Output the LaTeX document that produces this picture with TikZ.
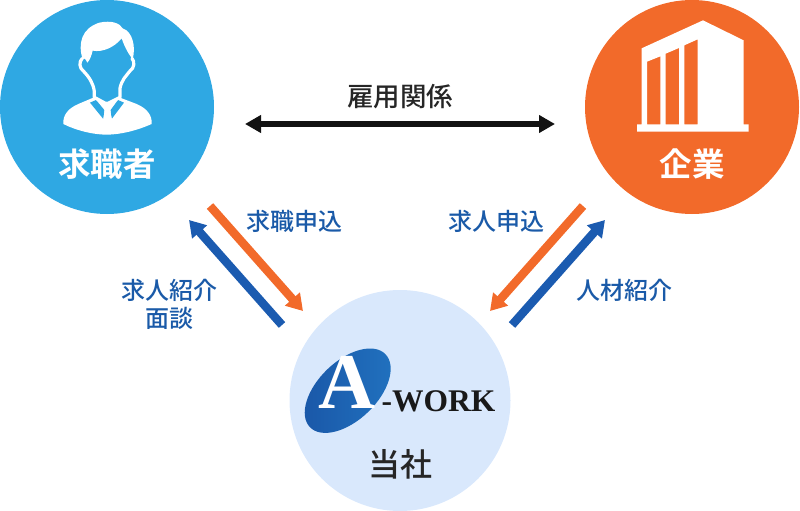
\documentclass[tikz,border=0pt]{standalone}
\usepackage{fontspec}
\setmainfont{Noto Sans CJK JP}[UprightFont={* Medium},BoldFont={* Bold}]
\newfontfamily\logofont{Liberation Serif}
\usetikzlibrary{arrows.meta}
\definecolor{skyb}{HTML}{2FA8E3}
\definecolor{orng}{HTML}{F26A2A}
\definecolor{pale}{HTML}{D9E8FC}
\definecolor{deepb}{HTML}{1B5BB0}
\definecolor{inkb}{HTML}{1A5AA8}
\tikzset{
  party/.style={circle,inner sep=0pt,minimum size=#1},
  lbl/.style={text=inkb,font=\fontsize{24}{24}\selectfont,inner sep=0pt},
  title/.style={text=white,font=\fontsize{32.5}{32.5}\selectfont\bfseries,inner sep=0pt},
  dark/.style={inner sep=0pt,text=black!85,font=\fontsize{#1}{#1}\selectfont},
  flow/.style={line width=8.5pt,-{Triangle[length=16pt,width=19pt]}},
}
\begin{document}
\begin{tikzpicture}[x=1pt,y=-1pt]
\useasboundingbox (0,0) rectangle (800,511);
\node[party=214pt,fill=skyb] (seeker) at (107,107) {};
\node[party=214pt,fill=orng] (firm) at (692,107) {};
\node[party=221pt,fill=pale] (agent) at (400,400.5) {};
% person icon
\begin{scope}[shift={(40,0)},x=.3333pt,y=-.3333pt]
 \fill[white] (70,372) .. controls (68,345) and (85,325) .. (115,312) -- (160,293) -- (200,308) -- (240,293) -- (290,312) .. controls (320,325) and (337,345) .. (335,372) .. controls (290,392) and (240,404) .. (200,404) .. controls (160,404) and (110,392) .. (70,372) -- cycle;
 \fill[skyb] (150,308) -- (168,300) -- (193,330) -- (190,357) -- cycle;
 \fill[skyb] (252,308) -- (234,300) -- (212,330) -- (215,357) -- cycle;
 \fill[skyb] (173,296) -- (200,312) -- (230,296) -- (230,270) -- (173,270) -- cycle;
 \draw[white,line width=3.2pt,line join=round,line cap=round] (127,175) .. controls (116,185) and (118,205) .. (130,213) .. controls (148,232) and (160,250) .. (163,275) -- (163,292) -- (200,312) -- (240,292) -- (240,265) .. controls (245,240) and (258,228) .. (270,213) .. controls (283,205) and (285,185) .. (276,175);
 \fill[white] (128,178) .. controls (113,130) and (125,85) .. (178,68) .. controls (215,60) and (240,70) .. (248,85) .. controls (278,95) and (288,140) .. (278,178) .. controls (268,165) and (255,145) .. (245,115) .. controls (225,140) and (190,158) .. (158,152) .. controls (155,165) and (150,180) .. (142,188) .. controls (138,180) and (134,172) .. (128,178) -- cycle;
 \fill[white] (185,310) -- (200,305) -- (216,310) -- (209,333) -- (216,358) -- (200,358) -- (192,358) -- (190,358) -- (195,333) -- cycle;
\end{scope}
% building icon
\begin{scope}[shift={(620,10)},x=.3333pt,y=-.3333pt]
 \fill[white,even odd rule] (65,115) -- (249,31) -- (371,91) -- (371,343) -- (386,343) -- (386,365) -- (51,365) -- (51,343) -- (65,343) -- cycle
   (81,155) -- (121,139) -- (121,343) -- (81,343) -- cycle
   (137,131) -- (177,114) -- (177,343) -- (137,343) -- cycle
   (193,106) -- (233,88) -- (233,343) -- (193,343) -- cycle;
\end{scope}
% logo
\shade[left color=deepb!95!black,right color=deepb!70!skyb,rotate around={44:(347.7,390.7)}] (347.7,390.7) ellipse [x radius=52.5pt,y radius=29.5pt];
\node[inner sep=0pt,text=white,font=\logofont\bfseries\fontsize{79}{79}\selectfont,anchor=base] (logoA) at (347.5,408) {A};
\node[inner sep=0pt,text=black!90,font=\logofont\bfseries\fontsize{31.5}{31.5}\selectfont,anchor=base west] (logoW) at (381.5,411.5) {-WORK};
% titles
\node[title] (t1) at (107,164) {求職者};
\node[title] (t2) at (692,164) {企業};
\node[dark=32] (t3) at (400,464) {当社};
\node[dark=26.5] (emp) at (400,97) {雇用関係};
\node[lbl] (l1) at (294,221) {求職申込};
\node[lbl] (l2) at (496,221) {求人申込};
\node[lbl] (l3) at (169,290) {求人紹介};
\node[lbl] (l4) at (169,318) {面談};
\node[lbl] (l5) at (624,290) {人材紹介};
% connectors
\coordinate (ea) at (245,124); \coordinate (eb) at (555,124);
\draw[line width=5.5pt,black!93,{Triangle[length=16pt,width=17pt]}-{Triangle[length=16pt,width=17pt]}] (ea) -- (eb);
\coordinate (a1) at (210,206); \coordinate (a2) at (303,311);
\coordinate (b1) at (282,325); \coordinate (b2) at (189,220);
\coordinate (c1) at (583,206); \coordinate (c2) at (490,311);
\coordinate (d1) at (512,325); \coordinate (d2) at (605,220);
\draw[flow,orng] (a1) -- (a2);
\draw[flow,deepb] (b1) -- (b2);
\draw[flow,orng] (c1) -- (c2);
\draw[flow,deepb] (d1) -- (d2);
\end{tikzpicture}
\end{document}
